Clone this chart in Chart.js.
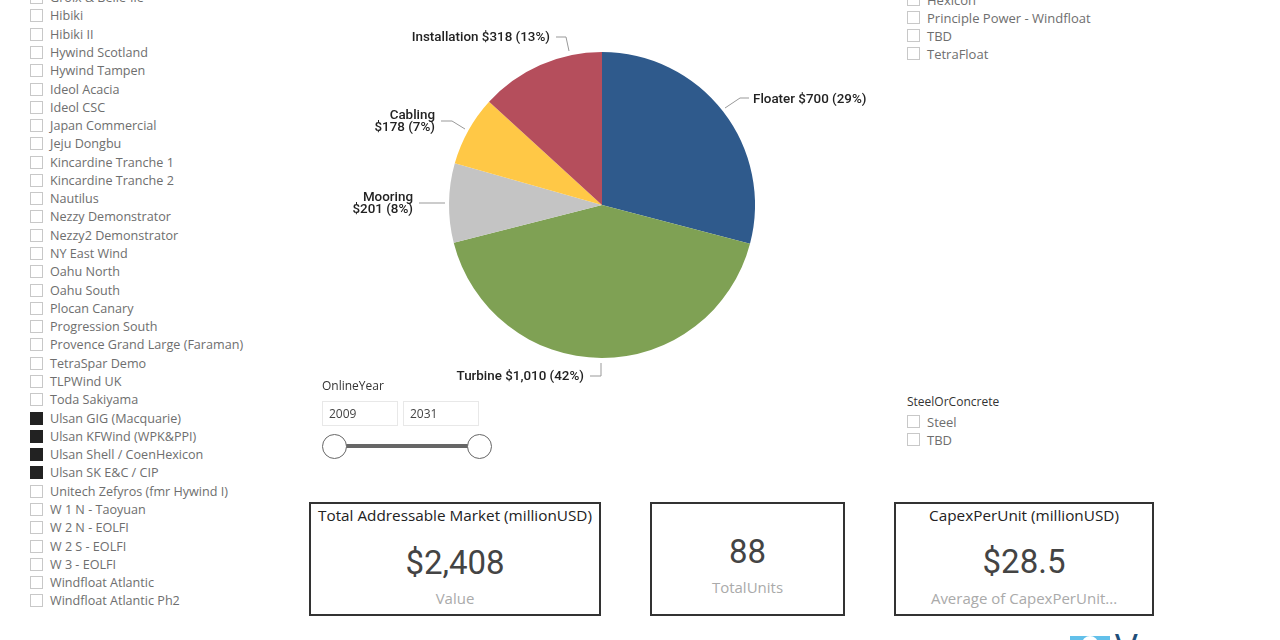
<!DOCTYPE html>
<html>
<head>
<meta charset="utf-8">
<title>Total Addressable Market</title>
<script src="https://cdn.jsdelivr.net/npm/chart.js@4"></script>
<style>
html, body { margin: 0; padding: 0; background: #fff; overflow: hidden; }
#page { position: relative; width: 1280px; height: 640px; overflow: hidden; font-family: "Open Sans", sans-serif; }
#capexChart { position: absolute; left: 302px; top: 0; }
.row { position: absolute; height: 18px; line-height: 18px; font-size: 12.6px; color: #6e6e6e; white-space: nowrap; }
#suppliers .row, #materials .row { font-size: 13px; }
.box { position: absolute; left: -20px; top: 2px; width: 11px; height: 11px; border: 1px solid #c8c8c8; background: #fff; }
.row.on .box { background: #222; border-color: #222; }
.plain { position: absolute; white-space: nowrap; font-size: 12px; color: #333; }
.yearbox { position: absolute; top: 401px; width: 68px; height: 23px; line-height: 23px; border: 1px solid #e8e8e8; padding-left: 6px; font-size: 12px; color: #444; }
#track { position: absolute; left: 335px; top: 444px; width: 145px; height: 4px; background: #666; }
.thumb { position: absolute; top: 434px; width: 23px; height: 23px; border: 1.5px solid #666; border-radius: 50%; background: #fff; }
.card { position: absolute; top: 502px; height: 110px; border: 2px solid #333; box-sizing: content-box; text-align: center; }
.card .title { position: absolute; left: 0; right: 0; top: 1px; font-size: 15.3px; color: #222; white-space: nowrap; }
.card .value { position: absolute; left: 0; right: 0; font-family: Roboto, sans-serif; font-size: 33px; color: #444; }
.card .name { position: absolute; left: 0; right: 0; font-size: 15px; color: #aaa; white-space: nowrap; }
#logoBlue { position: absolute; left: 1070px; top: 636px; width: 40px; height: 4px; background: #62c0ea; overflow: hidden; }
#logoBlue span { position: absolute; left: 12px; top: 0; width: 16px; height: 16px; border-radius: 50%; background: #fff; }
#logoV { position: absolute; left: 1115px; top: 625px; font-size: 38px; line-height: 44px; color: #1f4e79; }
</style>
</head>
<body>
<div id="page">
  <div id="projects"></div>
  <div id="suppliers"></div>
  <div id="materials"></div>
  <canvas id="capexChart" width="600" height="410"></canvas>
  <div class="plain" style="left:322px;top:377px">OnlineYear</div>
  <div class="yearbox" style="left:322px">2009</div>
  <div class="yearbox" style="left:403px">2031</div>
  <div id="track"></div>
  <div class="thumb" style="left:322px"></div>
  <div class="thumb" style="left:467px"></div>
  <div id="cards"></div>
  <div id="logoBlue"><span></span></div>
  <div id="logoV">V</div>
</div>
<script>
const categories = ['Floater', 'Turbine', 'Mooring', 'Cabling', 'Installation'];
const costValues = [700, 1010, 201, 178, 318];
const costShares = ['29%', '42%', '8%', '7%', '13%'];
const sliceColors = ['#2f5a8c', '#7fa154', '#c4c4c4', '#ffc846', '#b54e5c'];

const projectNames = ['Groix & Belle-Ile', 'Hibiki', 'Hibiki II', 'Hywind Scotland', 'Hywind Tampen', 'Ideol Acacia', 'Ideol CSC',
  'Japan Commercial', 'Jeju Dongbu', 'Kincardine Tranche 1', 'Kincardine Tranche 2', 'Nautilus', 'Nezzy Demonstrator',
  'Nezzy2 Demonstrator', 'NY East Wind', 'Oahu North', 'Oahu South', 'Plocan Canary', 'Progression South',
  'Provence Grand Large (Faraman)', 'TetraSpar Demo', 'TLPWind UK', 'Toda Sakiyama', 'Ulsan GIG (Macquarie)',
  'Ulsan KFWind (WPK&PPI)', 'Ulsan Shell / CoenHexicon', 'Ulsan SK E&C / CIP', 'Unitech Zefyros (fmr Hywind I)',
  'W 1 N - Taoyuan', 'W 2 N - EOLFI', 'W 2 S - EOLFI', 'W 3 - EOLFI', 'Windfloat Atlantic', 'Windfloat Atlantic Ph2'];
const selectedProjects = ['Ulsan GIG (Macquarie)', 'Ulsan KFWind (WPK&PPI)', 'Ulsan Shell / CoenHexicon', 'Ulsan SK E&C / CIP'];
const supplierNames = ['Hexicon', 'Principle Power - Windfloat', 'TBD', 'TetraFloat'];
const materialNames = ['Steel', 'TBD'];

function addRows(holderId, names, left, top, step, selected) {
    const holder = document.getElementById(holderId);
    names.forEach((name, i) => {
        const row = document.createElement('div');
        row.className = 'row' + (selected.includes(name) ? ' on' : '');
        row.style.left = left + 'px';
        row.style.top = (top + i * step) + 'px';
        row.innerHTML = '<span class="box"></span>';
        row.appendChild(document.createTextNode(name));
        holder.appendChild(row);
    });
}
addRows('projects', projectNames, 50, -10.9, 18.28, selectedProjects);
addRows('suppliers', supplierNames, 927, -9.5, 18.3, []);
addRows('materials', materialNames, 927, 412.5, 18.5, []);

const title = document.createElement('div');
title.className = 'plain';
title.style.left = '907px';
title.style.top = '393px';
title.textContent = 'SteelOrConcrete';
document.getElementById('materials').appendChild(title);

// KPI cards along the bottom
const cardList = [
    { left: 309, width: 288, title: 'Total Addressable Market (millionUSD)', value: '$2,408', name: 'Value', valueTop: 39, nameTop: 84 },
    { left: 650, width: 191, title: '', value: '88', name: 'TotalUnits', valueTop: 28, nameTop: 73 },
    { left: 894, width: 256, title: 'CapexPerUnit (millionUSD)', value: '$28.5', name: 'Average of CapexPerUnit...', valueTop: 38, nameTop: 84 }
];
cardList.forEach(c => {
    const card = document.createElement('div');
    card.className = 'card';
    card.style.left = c.left + 'px';
    card.style.width = c.width + 'px';
    card.innerHTML = '<div class="title"></div>' +
        '<div class="value" style="top:' + c.valueTop + 'px"></div>' +
        '<div class="name" style="top:' + c.nameTop + 'px"></div>';
    card.querySelector('.title').textContent = c.title;
    card.querySelector('.value').textContent = c.value;
    card.querySelector('.name').textContent = c.name;
    document.getElementById('cards').appendChild(card);
});

function money(v) {
    return '$' + v.toLocaleString('en-US');
}

// where each label and its leader line sits, relative to the pie
const labelSetup = [
    { oneLine: true, x: 451, y: 100, align: 'left', path: [[423, 108], [438, 98], [447, 98]] },
    { oneLine: true, x: 282, y: 377, align: 'right', path: [[299, 363], [299, 376], [288, 376]] },
    { oneLine: false, x: 111, y: 204, align: 'right', path: [[143, 203], [117, 203]] },
    { oneLine: false, x: 133, y: 122, align: 'right', path: [[163, 129], [150, 121], [139, 121]] },
    { oneLine: true, x: 248, y: 38, align: 'right', path: [[267, 51], [264, 37], [254, 37]] }
];

const pieLabels = {
    id: 'pieLabels',
    afterDatasetsDraw(chart) {
        const c = chart.ctx;
        c.save();
        labelSetup.forEach((s, i) => {
            c.strokeStyle = '#999';
            c.lineWidth = 1;
            c.beginPath();
            s.path.forEach((p, k) => k ? c.lineTo(p[0], p[1]) : c.moveTo(p[0], p[1]));
            c.stroke();
            c.fillStyle = '#222';
            c.font = '500 13.4px Roboto, sans-serif';
            c.textAlign = s.align;
            c.textBaseline = 'middle';
            const amount = money(costValues[i]) + ' (' + costShares[i] + ')';
            const lines = s.oneLine ? [categories[i] + ' ' + amount] : [categories[i], amount];
            lines.forEach((t, k) => c.fillText(t, s.x, s.y + (k - (lines.length - 1) / 2) * 12));
        });
        c.restore();
    }
};

const ctx = document.getElementById('capexChart').getContext('2d');
const capexChart = new Chart(ctx, {
    type: 'pie',
    data: {
        labels: categories,
        datasets: [{
            data: costValues,
            backgroundColor: sliceColors,
            borderWidth: 0
        }]
    },
    options: {
        responsive: false,
        devicePixelRatio: 1,
        animation: false,
        layout: { padding: 52 },
        plugins: {
            legend: { display: false },
            tooltip: { enabled: false }
        }
    },
    plugins: [pieLabels]
});
</script>
</body>
</html>
